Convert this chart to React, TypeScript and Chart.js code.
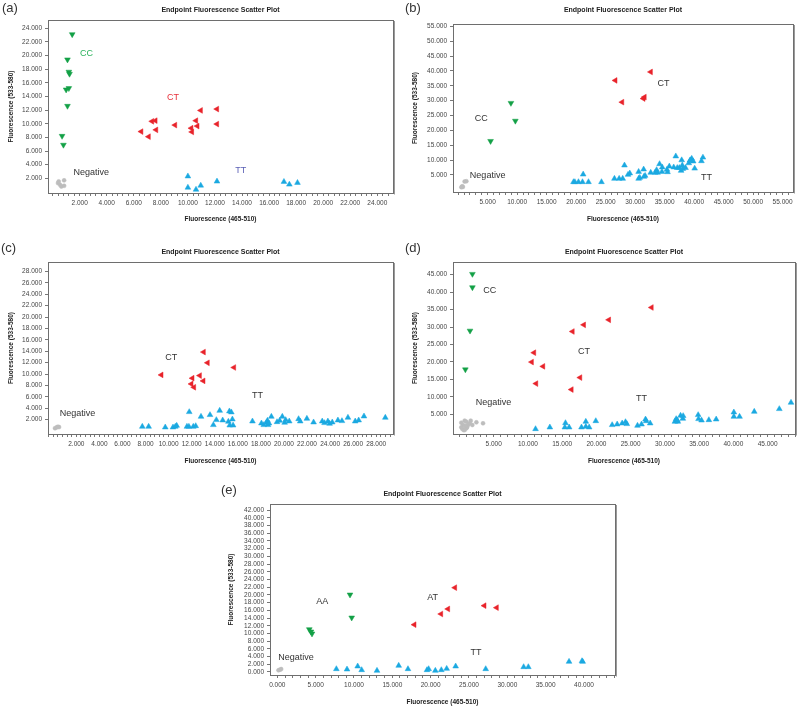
import React, { useEffect, useRef } from "react";
import { Chart, registerables } from "chart.js";
Chart.register(...registerables);

type P = [number, number];

const FONT = "'Liberation Sans', Arial, sans-serif";
const GREEN = "#13a046";
const RED = "#e8232a";
const BLUE = "#1ba9e1";
const GRAY = "#bdbdbd";
const TXT = "#333333";

// ---------- Panel (a) ----------
const A_NEG: P[] = [[400, 1300], [550, 1050], [650, 800], [850, 1700], [850, 900], [450, 1550]];
const A_CC: P[] = [[1450, 23100], [1100, 19400], [1200, 17600], [1250, 17300], [1000, 15000], [1200, 15200], [1100, 12600], [700, 8200], [800, 6900]];
const A_CT: P[] = [[6550, 8850], [7100, 8100], [7350, 10350], [7600, 10450], [7650, 9100], [9050, 9800], [10250, 9350], [10300, 8800], [10600, 10450], [10700, 9650], [10950, 11950], [12150, 12150], [12150, 9950]];
const A_TT: P[] = [[10000, 2300], [10000, 650], [10600, 350], [10950, 950], [12150, 1550], [17100, 1500], [17500, 1100], [18100, 1350]];
const A_X_TICKS = [2000, 4000, 6000, 8000, 10000, 12000, 14000, 16000, 18000, 20000, 22000, 24000];
const A_Y_TICKS = [2000, 4000, 6000, 8000, 10000, 12000, 14000, 16000, 18000, 20000, 22000, 24000];
const A_LABELS = [
  { text: "CC", x: 2500, y: 20300, color: "#2bb35c" },
  { text: "CT", x: 8900, y: 13850, color: "#e8303a" },
  { text: "TT", x: 13900, y: 3100, color: "#5a5fb5" },
  { text: "Negative", x: 2850, y: 2800, color: TXT },
];

// ---------- Panel (b) ----------
const B_NEG: P[] = [[550, 900], [800, 1000], [1100, 2800], [1400, 2900], [700, 1200]];
const B_CC: P[] = [[5500, 16400], [8950, 29200], [9700, 23200]];
const B_CT: P[] = [[26650, 36800], [27800, 29500], [32650, 39650], [31400, 30700], [31600, 31200]];
const B_TT: P[] = [
  [19560, 2650], [19790, 2650], [20400, 2650], [21080, 2650], [22100, 2650], [24300, 2650], [21200, 5200],
  [26500, 3770], [27300, 3770], [27900, 3770], [28200, 8250], [28800, 5100], [29100, 5560], [30600, 6100],
  [30600, 3770], [30800, 4100], [31450, 6900], [31500, 4440], [31700, 4770], [32650, 5800], [33400, 5800],
  [33650, 6700], [33800, 5800], [34150, 8700], [34600, 7600], [34550, 6100], [35400, 6800], [35500, 6000],
  [35800, 7900], [36550, 7600], [36900, 11300], [37150, 7400], [37500, 7400], [37800, 6450], [37900, 10000],
  [38000, 8250], [38100, 7100], [38550, 7400], [39100, 9000], [39400, 10000], [39600, 10500], [39850, 9600],
  [39300, 9900], [40100, 7200], [41250, 9700], [41500, 10900],
];
const B_X_TICKS = [5000, 10000, 15000, 20000, 25000, 30000, 35000, 40000, 45000, 50000, 55000];
const B_Y_TICKS = [5000, 10000, 15000, 20000, 25000, 30000, 35000, 40000, 45000, 50000, 55000];
const B_LABELS = [
  { text: "CC", x: 3900, y: 23900, color: TXT },
  { text: "CT", x: 34800, y: 35600, color: TXT },
  { text: "Negative", x: 5000, y: 4800, color: TXT },
  { text: "TT", x: 42100, y: 4300, color: TXT },
];

// ---------- Panel (c) ----------
const C_NEG: P[] = [[150, 500], [300, 650], [400, 750], [500, 700]];
const C_CT: P[] = [[9370, 9850], [12060, 9270], [11970, 8270], [12200, 7680], [12700, 9730], [13010, 8800], [13040, 13850], [13380, 11970], [15670, 11150]];
const C_TT: P[] = [
  [7720, 780], [8270, 780], [9710, 660], [10380, 660], [10580, 780], [10700, 950], [11590, 780], [11760, 780],
  [11790, 3350], [12140, 780], [12350, 890], [12810, 2530], [13590, 2830], [13880, 1070], [14140, 1950],
  [14430, 3580], [14690, 1890], [15180, 1650], [15270, 3470], [15440, 3300], [15300, 1000], [15530, 2060],
  [15590, 1000], [17270, 1710], [18050, 1360], [18250, 1070], [18480, 1480], [18570, 1830], [18620, 1070],
  [18700, 1360], [18910, 2530], [19400, 1590], [19630, 1830], [19860, 2530], [20060, 1480], [20150, 1950],
  [20460, 1710], [21270, 2120], [21410, 1710], [21990, 2180], [22570, 1540], [23320, 1710], [23520, 1420],
  [23810, 1710], [23960, 1300], [24190, 1540], [24680, 1890], [25030, 1770], [25550, 2360], [26180, 1710],
  [26480, 1890], [26940, 2590], [28790, 2360],
];
const C_X_TICKS = [2000, 4000, 6000, 8000, 10000, 12000, 14000, 16000, 18000, 20000, 22000, 24000, 26000, 28000];
const C_Y_TICKS = [2000, 4000, 6000, 8000, 10000, 12000, 14000, 16000, 18000, 20000, 22000, 24000, 26000, 28000];
const C_LABELS = [
  { text: "CT", x: 10230, y: 12940, color: TXT },
  { text: "TT", x: 17700, y: 6220, color: TXT },
  { text: "Negative", x: 2100, y: 3160, color: TXT },
];

// ---------- Panel (d) ----------
const D_NEG: P[] = [
  [270, 2610], [520, 1940], [760, 3180], [1000, 2890], [420, 790], [760, 500], [1100, 1270], [1250, 1940],
  [1490, 2420], [1640, 3180], [1000, 980], [1880, 1940], [2470, 2700], [3440, 2420], [270, 1270], [610, 500], [900, 1650],
];
const D_CC: P[] = [[1890, 45190], [1890, 41360], [1540, 28930], [860, 17830]];
const D_CT: P[] = [[28050, 35600], [21820, 32060], [18160, 30630], [16510, 28720], [10890, 22650], [10550, 19970], [12210, 18730], [17620, 15520], [11190, 13800], [16360, 12080]];
const D_TT: P[] = [
  [11110, 790], [13200, 1270], [15480, 2510], [15390, 1270], [16020, 1270], [17820, 1270], [18450, 2900],
  [18450, 1460], [18940, 1270], [19910, 3080], [22300, 1940], [23030, 2130], [23760, 2420], [24250, 2800],
  [24440, 2230], [26000, 1750], [26590, 2130], [27170, 3560], [27270, 3080], [27850, 2420], [31460, 2900],
  [31650, 3660], [31800, 3270], [31890, 2900], [32290, 4620], [32620, 3750], [32670, 4530], [34860, 4810],
  [34910, 3660], [35350, 3270], [36420, 3370], [37490, 3560], [40070, 5570], [40070, 4330], [40900, 4330],
  [43050, 5760], [46710, 6530], [48420, 8350],
];
const D_X_TICKS = [5000, 10000, 15000, 20000, 25000, 30000, 35000, 40000, 45000];
const D_Y_TICKS = [5000, 10000, 15000, 20000, 25000, 30000, 35000, 40000, 45000];
const D_LABELS = [
  { text: "CC", x: 4420, y: 40500, color: TXT },
  { text: "CT", x: 18200, y: 23100, color: TXT },
  { text: "TT", x: 26600, y: 9400, color: TXT },
  { text: "Negative", x: 4960, y: 8250, color: TXT },
];

// ---------- Panel (e) ----------
const E_NEG: P[] = [[150, 450], [350, 600], [500, 750]];
const E_AA: P[] = [[4170, 11060], [4390, 10460], [4520, 9940], [9480, 20050], [9700, 14090]];
const E_AT: P[] = [[17870, 12270], [21350, 15040], [22260, 16340], [23170, 21870], [27000, 17200], [28610, 16680]];
const E_TT: P[] = [
  [7700, 780], [9090, 690], [10480, 1470], [11000, 520], [13000, 350], [15830, 1640], [17040, 780], [19520, 520],
  [19740, 780], [20610, 350], [21390, 520], [22090, 860], [23260, 1470], [27180, 780], [32130, 1300], [32740, 1300],
  [38050, 2680], [39830, 2680], [39740, 2850],
];
const E_X_TICKS = [0, 5000, 10000, 15000, 20000, 25000, 30000, 35000, 40000];
const E_Y_TICKS = [0, 2000, 4000, 6000, 8000, 10000, 12000, 14000, 16000, 18000, 20000, 22000, 24000, 26000, 28000, 30000, 32000, 34000, 36000, 38000, 40000, 42000];
const E_LABELS = [
  { text: "AA", x: 5870, y: 18400, color: TXT },
  { text: "AT", x: 20260, y: 19400, color: TXT },
  { text: "TT", x: 25900, y: 5100, color: TXT },
  { text: "Negative", x: 2450, y: 3700, color: TXT },
];

type Lbl = { text: string; x: number; y: number; color: string };
type Cfg = {
  id: string; tag: string; tagX: number; tagY: number;
  left: number; top: number; w: number; h: number;
  xr: [number, number]; yr: [number, number];
  xTicks: number[]; yTicks: number[];
  wy: number; hx: number; padR: number;
  tTop: number; tBot: number; xtBot: number; ytTop: number;
  neg: P[]; g: P[]; r: P[]; b: P[];
  labels: Lbl[];
};

const PANELS: Cfg[] = [
  { id: "a", tag: "(a)", tagX: 2, tagY: 1, left: 0, top: 0, w: 400, h: 230, xr: [-340, 25160], yr: [-150, 25200],
    xTicks: A_X_TICKS, yTicks: A_Y_TICKS, wy: 48, hx: 37, padR: 7, tTop: 5.8, tBot: 5.8, xtBot: 7.1, ytTop: 7.1,
    neg: A_NEG, g: A_CC, r: A_CT, b: A_TT, labels: A_LABELS },
  { id: "b", tag: "(b)", tagX: 405, tagY: 1, left: 400, top: 0, w: 400, h: 230, xr: [-870, 56770], yr: [-717, 55780],
    xTicks: B_X_TICKS, yTicks: B_Y_TICKS, wy: 53, hx: 38, padR: 7, tTop: 6.1, tBot: 9.5, xtBot: 6.8, ytTop: 11.1,
    neg: B_NEG, g: B_CC, r: B_CT, b: B_TT, labels: B_LABELS },
  { id: "c", tag: "(c)", tagX: 1, tagY: 241, left: 0, top: 230, w: 400, h: 240, xr: [-457, 29456], yr: [-515, 29650],
    xTicks: C_X_TICKS, yTicks: C_Y_TICKS, wy: 48, hx: 36, padR: 7, tTop: 17.8, tBot: 5.8, xtBot: 5.1, ytTop: 7.1,
    neg: C_NEG, g: [], r: C_CT, b: C_TT, labels: C_LABELS },
  { id: "d", tag: "(d)", tagX: 405, tagY: 241, left: 400, top: 230, w: 400, h: 240, xr: [-945, 49000], yr: [-646, 48636],
    xTicks: D_X_TICKS, yTicks: D_Y_TICKS, wy: 53, hx: 36, padR: 5, tTop: 17.8, tBot: 5.8, xtBot: 5.1, ytTop: 11.8,
    neg: D_NEG, g: D_CC, r: D_CT, b: D_TT, labels: D_LABELS },
  { id: "e", tag: "(e)", tagX: 221, tagY: 483, left: 200, top: 465, w: 430, h: 242, xr: [-957, 44045], yr: [-778, 43560],
    xTicks: E_X_TICKS, yTicks: E_Y_TICKS, wy: 70, hx: 32, padR: 15, tTop: 24.5, tBot: 6.1, xtBot: 0.8, ytTop: 27.8,
    neg: E_NEG, g: E_AA, r: E_AT, b: E_TT, labels: E_LABELS },
];

const fmt = (v: number) => (v / 1000).toFixed(3);

function minorTicks(major: number[], min: number, max: number): number[] {
  const step = major.length > 1 ? (major[1] - major[0]) / 5 : 1000;
  const out: number[] = [];
  const start = Math.ceil(min / step) * step;
  for (let v = start; v <= max + 1e-6; v += step) out.push(Math.round(v));
  return out;
}

const framePlugin = {
  id: "frame",
  afterDraw(chart: any) {
    const { ctx, chartArea: a } = chart;
    ctx.save();
    ctx.strokeStyle = "#6e6e6e";
    ctx.lineWidth = 1;
    ctx.strokeRect(Math.round(a.left) + 0.5, Math.round(a.top) + 0.5, Math.round(a.right - a.left), Math.round(a.bottom - a.top));
    ctx.strokeStyle = "#9a9a9a";
    ctx.beginPath();
    ctx.moveTo(Math.round(a.right) + 1.5, Math.round(a.top) + 1);
    ctx.lineTo(Math.round(a.right) + 1.5, Math.round(a.bottom) + 1.5);
    ctx.stroke();
    ctx.restore();
  },
};

function labelPlugin(labels: Lbl[]) {
  return {
    id: "clusterLabels",
    afterDatasetsDraw(chart: any) {
      const { ctx } = chart;
      const xs = chart.scales.x, ys = chart.scales.y;
      ctx.save();
      ctx.font = `9px ${FONT}`;
      ctx.textAlign = "center";
      ctx.textBaseline = "middle";
      for (const l of labels) {
        ctx.fillStyle = l.color;
        ctx.fillText(l.text, xs.getPixelForValue(l.x), ys.getPixelForValue(l.y));
      }
      ctx.restore();
    },
  };
}

function ds(pts: P[], color: string, style: string, rotation: number, radius: number) {
  return {
    data: pts.map(([x, y]) => ({ x, y })),
    backgroundColor: color,
    borderColor: color,
    borderWidth: 0.5,
    pointStyle: style,
    rotation,
    pointRadius: radius,
    pointHoverRadius: radius,
  };
}

function Panel({ cfg }: { cfg: Cfg }) {
  const ref = useRef<HTMLCanvasElement>(null);
  useEffect(() => {
    const tickFont = { family: FONT, size: 6.5 };
    const titleFont = { family: FONT, size: 6.5, weight: "bold" as const };
    const chart = new Chart(ref.current!, {
      type: "scatter",
      data: {
        datasets: [
          ds(cfg.neg, GRAY, "circle", 0, 2),
          ds(cfg.g, GREEN, "triangle", 180, 3.3),
          ds(cfg.r, RED, "triangle", 270, 3.3),
          ds(cfg.b, BLUE, "triangle", 0, 3.3),
        ] as any,
      },
      options: {
        animation: false,
        responsive: false,
        devicePixelRatio: 1,
        events: [],
        layout: { padding: { left: 0, right: cfg.padR, top: 0, bottom: 0 }, autoPadding: false } as any,
        plugins: {
          legend: { display: false },
          tooltip: { enabled: false },
          title: {
            display: true,
            fullSize: false,
            text: "Endpoint Fluorescence Scatter Plot",
            color: "#222",
            font: { family: FONT, size: 7, weight: "bold" },
            padding: { top: cfg.tTop, bottom: cfg.tBot },
          },
        },
        scales: {
          x: {
            type: "linear",
            min: cfg.xr[0],
            max: cfg.xr[1],
            afterBuildTicks: (s: any) => {
              s.ticks = minorTicks(cfg.xTicks, cfg.xr[0], cfg.xr[1]).map((v) => ({ value: v }));
            },
            afterFit: (s: any) => { s.height = cfg.hx; },
            ticks: {
              autoSkip: false,
              maxRotation: 0,
              minRotation: 0,
              padding: 3,
              color: "#444",
              font: tickFont,
              callback: (v: any) => (cfg.xTicks.includes(Number(v)) ? fmt(Number(v)) : ""),
            },
            grid: { display: true, drawOnChartArea: false, drawTicks: true, tickLength: 3, color: "#777" },
            border: { display: false },
            title: {
              display: true,
              text: "Fluorescence (465-510)",
              color: "#222",
              font: titleFont,
              padding: { top: 0, bottom: cfg.xtBot },
            },
          },
          y: {
            type: "linear",
            min: cfg.yr[0],
            max: cfg.yr[1],
            afterBuildTicks: (s: any) => {
              s.ticks = cfg.yTicks.map((v) => ({ value: v }));
            },
            afterFit: (s: any) => { s.width = cfg.wy; },
            ticks: {
              autoSkip: false,
              padding: 3,
              color: "#444",
              font: tickFont,
              callback: (v: any) => fmt(Number(v)),
            },
            grid: { display: true, drawOnChartArea: false, drawTicks: true, tickLength: 3, color: "#777" },
            border: { display: false },
            title: {
              display: true,
              text: "Fluorescence (533-580)",
              color: "#222",
              font: titleFont,
              padding: { top: cfg.ytTop, bottom: 0 },
            },
          },
        },
      } as any,
      plugins: [framePlugin, labelPlugin(cfg.labels)],
    });
    return () => chart.destroy();
  }, []);
  return (
    <>
      <canvas
        ref={ref}
        width={cfg.w}
        height={cfg.h}
        style={{ position: "absolute", left: cfg.left, top: cfg.top, width: cfg.w, height: cfg.h }}
      />
      <div
        style={{
          position: "absolute",
          left: cfg.tagX,
          top: cfg.tagY,
          font: `13px ${FONT}`,
          color: "#333",
          lineHeight: "14px",
        }}
      >
        {cfg.tag}
      </div>
    </>
  );
}

export default function App() {
  return (
    <div style={{ position: "absolute", left: 0, top: 0, width: 800, height: 707, background: "#fff", overflow: "hidden" }}>
      {PANELS.map((p) => (
        <Panel key={p.id} cfg={p} />
      ))}
    </div>
  );
}
